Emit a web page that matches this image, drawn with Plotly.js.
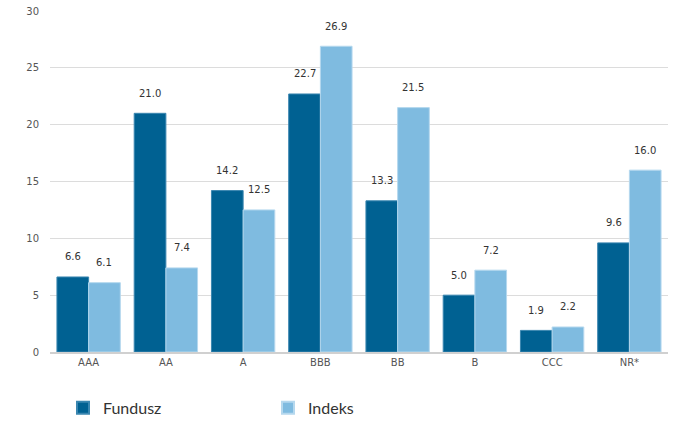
<!DOCTYPE html>
<html><head><meta charset="utf-8">
<script src="https://cdn.plot.ly/plotly-3.0.1.min.js"></script>
<style>html,body{margin:0;padding:0;background:#fff}#c{width:675px;height:421px}</style>
</head><body><div id="c"></div>
<script>
const categories = ['AAA','AA','A','BBB','BB','B','CCC','NR*'];
const fundusz = [6.6, 21.0, 14.2, 22.7, 13.3, 5.0, 1.9, 9.6];
const indeks = [6.1, 7.4, 12.5, 26.9, 21.5, 7.2, 2.2, 16.0];
const seriesNames = ['Fundusz','Indeks'];
const yTicks = [0,5,10,15,20,25,30];

const darkC = '#006192', lightC = '#7fbbe0';
const bargap = 0.18;
const half = (1 - bargap) / 4;

const traces = [
  {type:'bar', name:seriesNames[0], x:categories.map((c,i)=>i), y:fundusz,
   marker:{color:darkC, line:{color:'#3a86b0', width:1}}, hoverinfo:'skip'},
  {type:'bar', name:seriesNames[1], x:categories.map((c,i)=>i), y:indeks,
   marker:{color:lightC, line:{color:'#b5d8ee', width:1}}, hoverinfo:'skip'}
];

const annotations = [];
[fundusz, indeks].forEach((arr, s) => {
  arr.forEach((v, i) => {
    annotations.push({x: i + (s === 0 ? -half : half), y: v, xref:'x', yref:'y',
      text: v.toFixed(1), showarrow:false, yshift:20,
      font:{family:'DejaVu Sans', size:10, color:'#333'}});
  });
});

const layout = {
  width:675, height:421,
  margin:{l:50, r:7, t:11, b:69, autoexpand:false},
  paper_bgcolor:'#fff', plot_bgcolor:'#fff',
  barmode:'group', bargap:bargap, bargroupgap:0,
  xaxis:{tickmode:'array', tickvals:categories.map((c,i)=>i), ticktext:categories,
    range:[-0.5, categories.length-0.5], showgrid:false, zeroline:false,
    showline:true, linecolor:'#d0d0d0', linewidth:2,
    tickfont:{family:'DejaVu Sans', size:10, color:'#555'}, ticks:''},
  yaxis:{range:[0,30], tickvals:yTicks, showgrid:true, gridcolor:'#dcdcdc', gridwidth:1,
    zeroline:false, showline:false, ticks:'', ticklabelstandoff:10,
    tickfont:{family:'DejaVu Sans', size:10, color:'#555'}},
  showlegend:true,
  legend:{orientation:'h', x:0.021, xanchor:'left', y:-0.114, yanchor:'top',
    entrywidth:160, entrywidthmode:'pixels',
    font:{family:'Lato', size:16, color:'#333'}, itemsizing:'constant'},
  annotations:annotations
};
Plotly.newPlot('c', traces, layout, {displayModeBar:false, staticPlot:true});
</script></body></html>
